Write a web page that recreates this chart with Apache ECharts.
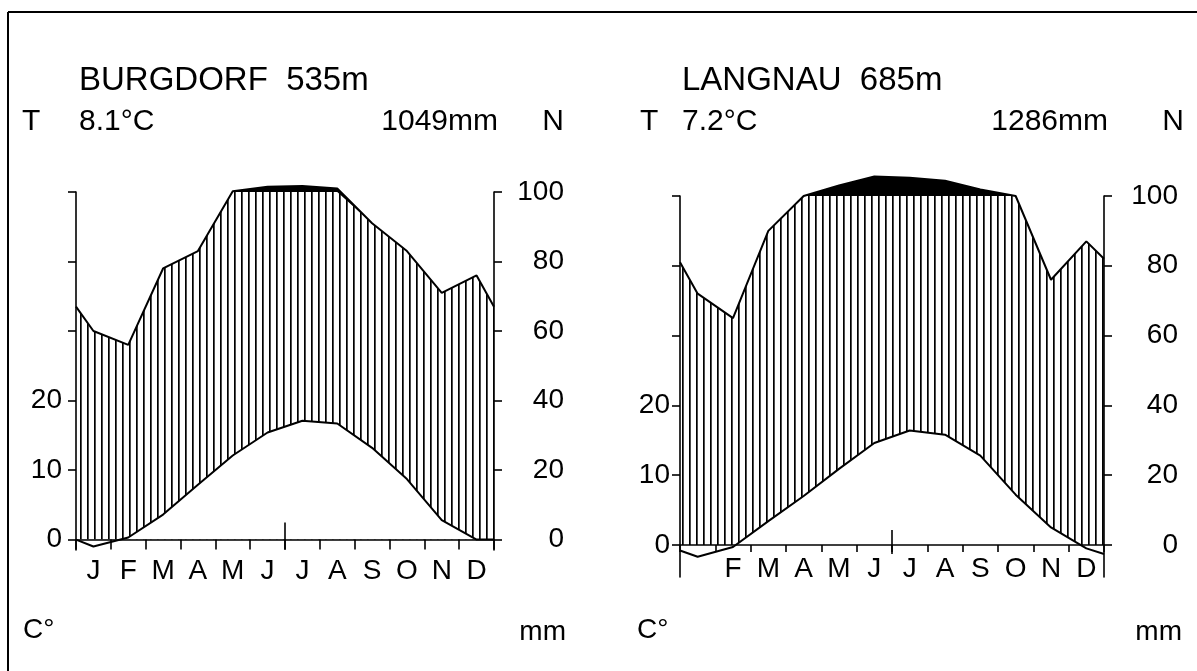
<!DOCTYPE html>
<html><head><meta charset="utf-8">
<script src="https://cdn.jsdelivr.net/npm/echarts@6/dist/echarts.min.js"></script>
<style>html,body{margin:0;padding:0;background:#fff}#c{width:1197px;height:671px}</style>
</head><body><div id="c"></div>
<script>
// ---- data ----
const months = ['J','F','M','A','M','J','J','A','S','O','N','D'];
const stationNames = ['BURGDORF', 'LANGNAU'];
const elevations = ['535m', '685m'];
const meanTemps = ['8.1°C', '7.2°C'];
const annualPrecip = ['1049mm', '1286mm'];
const tempTickValues = [0, 10, 20];            // °C, labelled on the left axis
const precipTickValues = [0, 20, 40, 60, 80, 100]; // mm, right axis

// monthly means (°C) and values at the left / right edge of the diagram
const burgdorfTemp = [-1.0, 0.3, 3.6, 7.9, 12.1, 15.4, 17.1, 16.7, 13.2, 8.7, 2.8, 0.0];
const burgdorfTempEdges = [0.0, 0.0];
const burgdorfPrecip = [60, 56, 78, 83, 102, 115, 117, 110, 91, 83, 71, 76];
const burgdorfPrecipEdges = [67, 67];

const langnauTemp = [-1.7, -0.3, 3.4, 7.0, 10.9, 14.6, 16.4, 15.8, 12.8, 7.2, 2.5, -0.5];
const langnauTempEdges = [-0.8, -1.3];
const langnauPrecip = [72, 65, 90, 100, 130, 156, 152, 144, 119, 100, 76, 87];
const langnauPrecipEdges = [81, 82];

// ---- helpers ----
const FONT = '"Liberation Sans", Arial, sans-serif';
const tempScale = t => t * 2;                 // 10 °C = 20 mm
const precipScale = p => p <= 100 ? p : 100 + (p - 100) / 10; // 1/10 above 100 mm
const precipCap = p => Math.min(p, 100);
function toPoints(vals, edges, f) {
  const pts = [[0, f(edges[0])]];
  vals.forEach((v, i) => pts.push([i + 0.5, f(v)]));
  pts.push([12, f(edges[1])]);
  return pts;
}
function hatchPattern() {
  const c = document.createElement('canvas');
  c.width = 7; c.height = 10;
  const g = c.getContext('2d');
  g.fillStyle = '#fff'; g.fillRect(0, 0, 7, 10);
  g.fillStyle = '#000'; g.fillRect(3, 0, 1.7, 10);
  return c;
}
const pattern = { image: hatchPattern(), repeat: 'repeat' };

const panels = [
  { temp: burgdorfTemp, tempE: burgdorfTempEdges, prec: burgdorfPrecip, precE: burgdorfPrecipEdges,
    grid: { left: 76, right: 703, top: 192, bottom: 121 }, yMin: -3, mid: [-2.9, 4.9],
    tickLen: 10, labelMargin: 7, leftMargin: 14, rightMargin: 70, hideFirst: false },
  { temp: langnauTemp, tempE: langnauTempEdges, prec: langnauPrecip, precE: langnauPrecipEdges,
    grid: { left: 680, right: 93, top: 196, bottom: 94 }, yMin: -9.2, mid: [-2.6, 4.3],
    tickLen: 7, labelMargin: -22, leftMargin: 10, rightMargin: 74, hideFirst: true }
];
const AXFS = 28;

const grid = [], xAxis = [], yAxis = [], series = [];
panels.forEach((p, gi) => {
  grid.push(Object.assign({ containLabel: false }, p.grid));
  // data axis (hidden)
  xAxis.push({ type: 'value', gridIndex: gi, position: 'top', min: 0, max: 12, show: false });
  // display axis: month ticks and labels on the 0 line
  xAxis.push({ type: 'category', gridIndex: gi, position: 'bottom', data: months, boundaryGap: true, z: 10,
    axisLine: { show: true, onZero: true, onZeroAxisIndex: gi * 2, lineStyle: { color: '#000', width: 1.6 } },
    axisTick: { show: true, inside: false, length: p.tickLen, interval: 0, lineStyle: { color: '#000', width: 1.6 } },
    axisLabel: { interval: 0, margin: p.labelMargin, color: '#000', fontFamily: FONT, fontSize: AXFS,
      formatter: (v, i) => (p.hideFirst && i === 0) ? '' : v },
    splitLine: { show: false } });
  const yCommon = { type: 'value', gridIndex: gi, min: p.yMin, max: 100, z: 10,
    axisLine: { show: true, onZero: false, lineStyle: { color: '#000', width: 1.6 } },
    axisTick: { show: true, inside: false, length: 8, customValues: precipTickValues, lineStyle: { color: '#000', width: 1.6 } },
    splitLine: { show: false } };
  yAxis.push(Object.assign({}, yCommon, { position: 'left',
    axisLabel: { customValues: tempTickValues.map(tempScale), formatter: v => String(v / 2),
      margin: p.leftMargin, color: '#000', fontFamily: FONT, fontSize: AXFS } }));
  yAxis.push(Object.assign({}, yCommon, { position: 'right',
    axisLabel: { customValues: precipTickValues, formatter: v => String(v), align: 'right',
      margin: p.rightMargin, color: '#000', fontFamily: FONT, fontSize: AXFS } }));

  const xi = gi * 2, yi = gi * 2;
  const base = { type: 'line', xAxisIndex: xi, yAxisIndex: yi, showSymbol: false, symbol: 'none',
    clip: false, silent: true, animation: false };
  // humid period above 100 mm: black
  series.push(Object.assign({}, base, { z: 1, data: toPoints(p.prec, p.precE, precipScale),
    lineStyle: { width: 0, opacity: 0 }, areaStyle: { color: '#000', opacity: 1 } }));
  // humid period up to 100 mm: vertical hatching
  series.push(Object.assign({}, base, { z: 2, data: toPoints(p.prec, p.precE, precipCap),
    lineStyle: { width: 0, opacity: 0 }, areaStyle: { color: pattern, opacity: 1 } }));
  // temperature curve (area below it white)
  series.push(Object.assign({}, base, { z: 3, data: toPoints(p.temp, p.tempE, tempScale),
    lineStyle: { color: '#000', width: 2 }, areaStyle: { color: '#fff', opacity: 1 } }));
  // precipitation curve outline
  series.push(Object.assign({}, base, { z: 4, data: toPoints(p.prec, p.precE, precipScale),
    lineStyle: { color: '#000', width: 2 },
    markLine: { silent: true, symbol: 'none', label: { show: false }, animation: false,
      lineStyle: { color: '#000', width: 1.6, type: 'solid' },
      data: [[{ coord: [6, p.mid[0]] }, { coord: [6, p.mid[1]] }]] } }));
});

function txt(text, x, y, size, align) {
  return { type: 'text', silent: true, style: { text: text, x: x, y: y, fill: '#000',
    font: size + 'px ' + FONT, align: align || 'left', verticalAlign: 'middle' } };
}
const graphic = [
  { type: 'line', silent: true, shape: { x1: 8, y1: 12, x2: 1197, y2: 12 }, style: { stroke: '#000', lineWidth: 2 } },
  { type: 'line', silent: true, shape: { x1: 8, y1: 12, x2: 8, y2: 671 }, style: { stroke: '#000', lineWidth: 2 } },
  // Burgdorf
  txt(stationNames[0] + '  ' + elevations[0], 79, 81, 33),
  txt('T', 22, 122, 30), txt(meanTemps[0], 79, 122, 30),
  txt(annualPrecip[0], 498, 122, 30, 'right'), txt('N', 564, 122, 30, 'right'),
  txt('C°', 23, 630, 28), txt('mm', 566, 632, 28, 'right'),
  // Langnau
  txt(stationNames[1] + '  ' + elevations[1], 682, 81, 33),
  txt('T', 640, 122, 30), txt(meanTemps[1], 682, 122, 30),
  txt(annualPrecip[1], 1108, 122, 30, 'right'), txt('N', 1184, 122, 30, 'right'),
  txt('C°', 637, 630, 28), txt('mm', 1182, 632, 28, 'right')
];

const chart = echarts.init(document.getElementById('c'), null, { renderer: 'canvas' });
chart.setOption({ animation: false, backgroundColor: '#fff', grid, xAxis, yAxis, series, graphic });
</script></body></html>
